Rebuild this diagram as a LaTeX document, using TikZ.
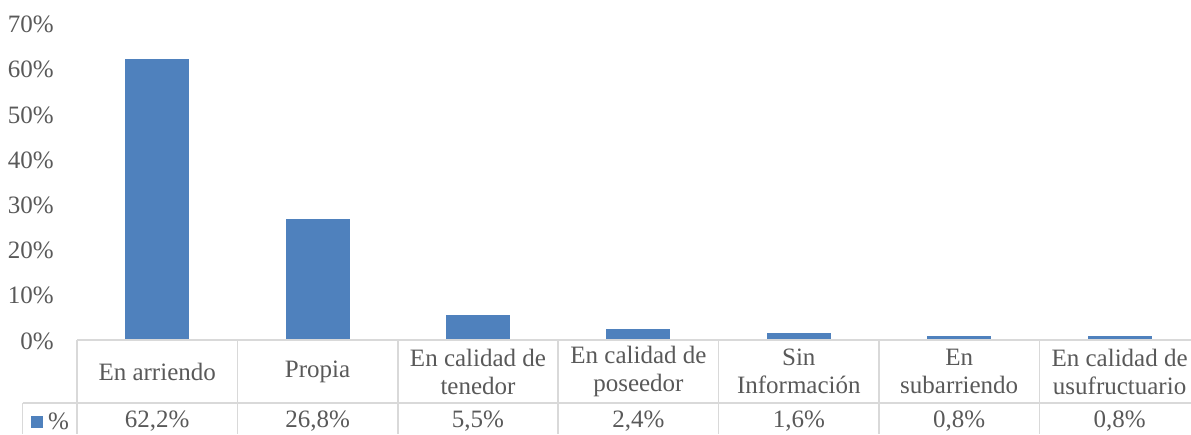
\documentclass[tikz,border=0pt]{standalone}
\usepackage{fontspec}
\setmainfont{Liberation Serif}
\usetikzlibrary{positioning}
\definecolor{barblue}{RGB}{79,129,189}
\definecolor{labelgray}{RGB}{89,89,89}
\definecolor{gridgray}{RGB}{217,217,217}

\begin{document}
\begin{tikzpicture}[
    x=1pt, y=-1pt,
    tick/.style={anchor=east, text=labelgray, font=\fontsize{25}{28}\selectfont, inner sep=0pt},
    cell/.style={align=center, text=labelgray, font=\fontsize{25}{28}\selectfont, inner sep=0pt},
    bar/.style={fill=barblue, draw=none},
    rule/.style={draw=gridgray, line width=1.5pt}
]
\useasboundingbox (0,0) rectangle (1191,434);

% Y axis labels
\foreach \p in {0,10,...,70} {
    \node[tick] (tick\p) at (54,341-4.52*\p) {\p\%};
}

% Data table lines
\draw[rule] (77,340) -- (1191,340);
\draw[rule] (22.7,403) -- (1191,403);
\draw[rule] (22.7,403) -- (22.7,434);
\foreach \i in {0,...,6} {
    \draw[rule] (77+160.4*\i,340) -- (77+160.4*\i,434);
}

% Bars, categories and values
\foreach \i/\cat/\val/\pct in {0/{En arriendo}/62.2/{62,2\%},
        1/Propia/26.8/{26,8\%},
        2/{En calidad de\\tenedor}/5.5/{5,5\%},
        3/{En calidad de\\poseedor}/2.4/{2,4\%},
        4/{Sin\\Información}/1.6/{1,6\%},
        5/{En\\subarriendo}/0.8/{0,8\%},
        6/{En calidad de\\usufructuario}/0.8/{0,8\%}} {
    \pgfmathsetmacro{\xc}{77+160.4*(\i+0.5)}
    \fill[bar] (\xc-32,339) rectangle (\xc+32,340-4.52*\val);
    \node[cell] (cat\i) at (\xc,371.5) {\cat};
    \node[cell] (val\i) at (\xc,421.5) {\pct};
}

% Legend key
\fill[bar] (31,416) rectangle (43,428);
\node[cell, anchor=west] (legend) at (48,421.5) {\%};

\end{tikzpicture}
\end{document}
